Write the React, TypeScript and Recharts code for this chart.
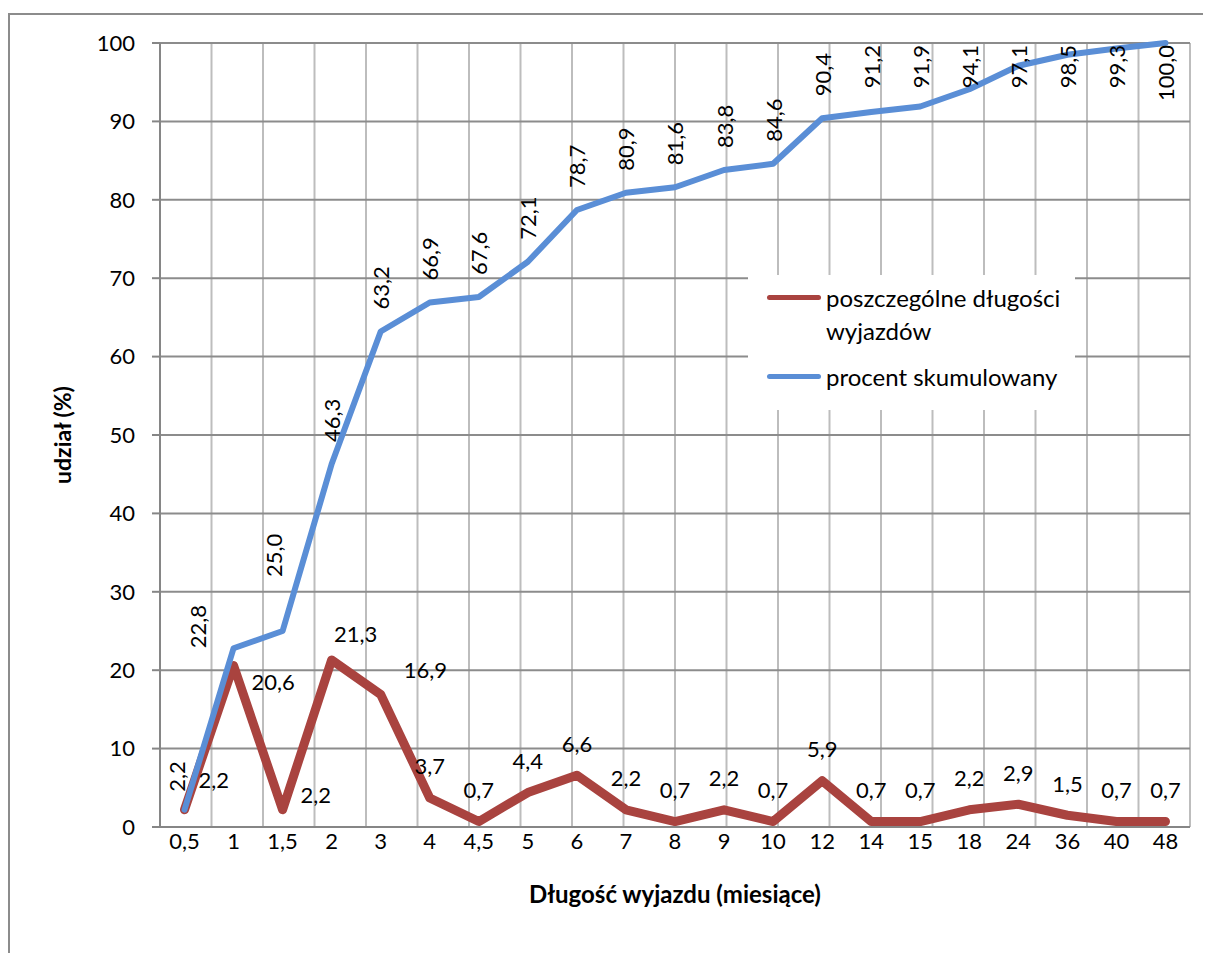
import { LineChart, Line, XAxis, YAxis, CartesianGrid, LabelList } from "recharts";

const DLUGOSCI = ["0,5", "1", "1,5", "2", "3", "4", "4,5", "5", "6", "7", "8", "9", "10", "12", "14", "15", "18", "24", "36", "40", "48"];
const POSZCZEGOLNE = [2.2, 20.6, 2.2, 21.3, 16.9, 3.7, 0.7, 4.4, 6.6, 2.2, 0.7, 2.2, 0.7, 5.9, 0.7, 0.7, 2.2, 2.9, 1.5, 0.7, 0.7];
const SKUMULOWANY = [2.2, 22.8, 25.0, 46.3, 63.2, 66.9, 67.6, 72.1, 78.7, 80.9, 81.6, 83.8, 84.6, 90.4, 91.2, 91.9, 94.1, 97.1, 98.5, 99.3, 100.0];
const OS_Y = [0, 10, 20, 30, 40, 50, 60, 70, 80, 90, 100];

const CZERWONY = "#a9433f";
const NIEBIESKI = "#5a8ed6";
const FONT = "Lato, 'Noto Sans', sans-serif";
const ROZMIAR = 22;
const GORA = 28;

const dane = DLUGOSCI.map((d, i) => ({ d, p: POSZCZEGOLNE[i], s: SKUMULOWANY[i] }));
// pomocnicza oś do siatki: linia co pół kategorii
const SIATKA = Array.from({ length: DLUGOSCI.length * 2 + 1 }, (_, i) => i);

const fmt = (v: number) => v.toFixed(1).replace(".", ",");

function EtykietaSkum(props: any) {
  const x = props.x ?? props.viewBox?.x;
  const y = props.y ?? props.viewBox?.y;
  const { value, index } = props;
  const txt = fmt(Number(value));
  const dlug = txt.length * 0.55 * ROZMIAR;
  let cx = x;
  let dol = y - 22;
  let anchor = "start";
  if (index === 0) { cx = x - 8; dol = y - 18; }
  if (index === 1) { cx = x - 36; dol = y; }
  if (index === 2) { cx = x - 9; dol = y - 54; }
  if (dol - dlug < GORA + 2) { anchor = "end"; dol = GORA + 2; }
  return (
    <text
      x={cx}
      y={dol}
      transform={`rotate(-90 ${cx} ${dol})`}
      textAnchor={anchor}
      dominantBaseline="central"
      fontSize={ROZMIAR}
      fontFamily={FONT}
      fill="#000"
    >
      {txt}
    </text>
  );
}

function EtykietaPosz(props: any) {
  const x = props.x ?? props.viewBox?.x;
  const y = props.y ?? props.viewBox?.y;
  const { value, index } = props;
  let tx = x;
  let ty = y - 32;
  let anchor = "middle";
  if (index === 0) { tx = x + 14; ty = y - 30; anchor = "start"; }
  if (index === 1) { tx = x + 18; ty = y + 16; anchor = "start"; }
  if (index === 2) { tx = x + 18; ty = y - 15; anchor = "start"; }
  if (index === 3) { tx = x + 24; ty = y - 27; }
  if (index === 4) { tx = x + 23; ty = y - 25; anchor = "start"; }
  return (
    <text x={tx} y={ty} textAnchor={anchor} dominantBaseline="central" fontSize={ROZMIAR} fontFamily={FONT} fill="#000">
      {fmt(Number(value))}
    </text>
  );
}

function Legenda() {
  const wiersz = { display: "flex", alignItems: "flex-start", gap: 5 } as const;
  const kreska = (c: string) => (
    <span style={{ display: "inline-block", width: 54, height: 5, borderRadius: 2.5, background: c, marginTop: 14, flexShrink: 0 }} />
  );
  return (
    <div
      style={{
        position: "absolute",
        left: 738,
        top: 260,
        width: 327,
        height: 135,
        background: "#fff",
        boxSizing: "border-box",
        padding: "6px 0 0 19px",
        fontFamily: FONT,
        fontSize: 24,
        lineHeight: "33px",
        color: "#000",
        whiteSpace: "nowrap",
      }}
    >
      <div style={wiersz}>
        {kreska(CZERWONY)}
        <span>poszczególne długości<br />wyjazdów</span>
      </div>
      <div style={{ ...wiersz, marginTop: 13 }}>
        {kreska(NIEBIESKI)}
        <span>procent skumulowany</span>
      </div>
    </div>
  );
}

export default function App() {
  return (
    <div
      style={{
        marginTop: 5,
        borderLeft: "2px solid #8c8c8c",
        borderTop: "2px solid #8c8c8c",
        width: 1201,
        height: 938,
        position: "relative",
      }}
    >
      <LineChart
        width={1193}
        height={938}
        data={dane}
        margin={{ top: GORA, right: 13, bottom: 66, left: 70 }}
        style={{ fontFamily: FONT }}
      >
        <XAxis xAxisId="siatka" type="number" domain={[0, SIATKA.length - 1]} ticks={SIATKA} hide />
        <CartesianGrid xAxisId="siatka" horizontal={false} stroke="#bdbdbd" strokeWidth={2} />
        <CartesianGrid vertical={false} stroke="#8c8c8c" strokeWidth={2} />
        <XAxis
          dataKey="d"
          interval={0}
          padding={{ left: 24.5, right: 24.5 }}
          axisLine={{ stroke: "#868686", strokeWidth: 2 }}
          tickLine={false}
          tickSize={0}
          tickMargin={6}
          height={60}
          tick={{ fontSize: ROZMIAR, fill: "#000", fontFamily: FONT }}
          label={(p: any) => (
            <text
              x={p.viewBox.x + p.viewBox.width / 2}
              y={p.viewBox.y + 66}
              textAnchor="middle"
              dominantBaseline="central"
              fontSize={24}
              fontWeight="bold"
              fontFamily={FONT}
              fill="#000"
            >
              Długość wyjazdu (miesiące)
            </text>
          )}
        />
        <YAxis
          domain={[0, 100]}
          ticks={OS_Y}
          interval={0}
          width={80}
          axisLine={{ stroke: "#868686", strokeWidth: 2 }}
          tickLine={{ stroke: "#868686", strokeWidth: 2 }}
          tickSize={8}
          tickMargin={17}
          tick={{ fontSize: ROZMIAR, fill: "#000", fontFamily: FONT }}
          label={(p: any) => {
            const cx = p.viewBox.x - 18;
            const cy = p.viewBox.y + p.viewBox.height / 2;
            return (
              <text
                x={cx}
                y={cy}
                transform={`rotate(-90 ${cx} ${cy})`}
                textAnchor="middle"
                dominantBaseline="central"
                fontSize={23}
                fontWeight="bold"
                fontFamily={FONT}
                fill="#000"
              >
                udział (%)
              </text>
            );
          }}
        />
        <Line
          dataKey="p"
          stroke={CZERWONY}
          strokeWidth={9}
          strokeLinecap="round"
          strokeLinejoin="round"
          dot={false}
          isAnimationActive={false}
        >
          <LabelList dataKey="p" content={<EtykietaPosz />} />
        </Line>
        <Line
          dataKey="s"
          stroke={NIEBIESKI}
          strokeWidth={6}
          strokeLinecap="round"
          strokeLinejoin="round"
          dot={false}
          isAnimationActive={false}
        >
          <LabelList dataKey="s" content={<EtykietaSkum />} />
        </Line>
      </LineChart>
      <Legenda />
    </div>
  );
}
